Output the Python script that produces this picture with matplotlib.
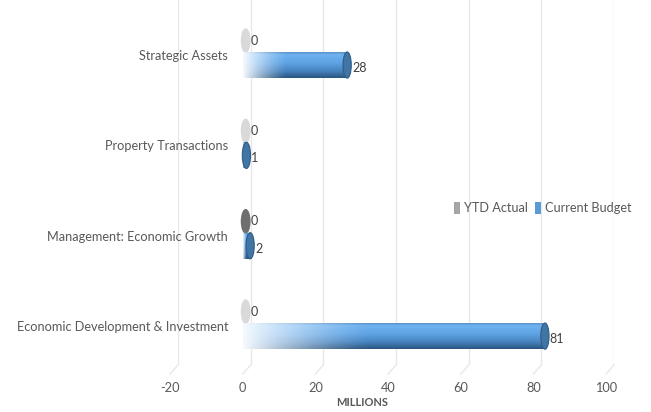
import matplotlib.pyplot as plt
import numpy as np
from matplotlib.patches import Ellipse, Patch
from matplotlib.colors import to_rgb
from matplotlib.transforms import ScaledTranslation, Affine2D

# data (bottom to top, as drawn)
categories = ['Economic Development & Investment', 'Management: Economic Growth',
              'Property Transactions', 'Strategic Assets']
ytd_actual = [0, 0, 0, 0]
current_budget = [81, 2, 1, 28]
xticks = [-20, 0, 20, 40, 60, 80, 100]

plt.rcParams['font.family'] = ['Lato', 'DejaVu Sans']
plt.rcParams['axes.unicode_minus'] = False
TEXT = '#595959'
GRID = '#e8e8e8'

fig = plt.figure(figsize=(6.51, 4.12), dpi=100)
ax = fig.add_axes([178 / 651, 47 / 412, 436 / 651, 365 / 412])
xlim = (-20, 100)
ylim = (-0.42, 3.62)

y = np.arange(len(categories))
bh = 0.29
y_budget = y - 0.1
y_ytd = y + 0.17
cap_w = 2.2

# the bars sit on the front plane of the 3D box: slightly shifted/stretched vs the back wall grid
front = Affine2D().scale(1.027, 1).translate(-2.2, 0) + ax.transData
# the YTD series sits a little deeper in the box
mid = ax.transData + ScaledTranslation(-5 / 100, 0, fig.dpi_scale_trans)


def cylinder_image(nx=300, ny=40):
    # vertical shading of the cylinder, top -> bottom
    stops = [0.0, 0.12, 0.45, 0.75, 1.0]
    cols = np.array([to_rgb(c) for c in ['#4f86b8', '#6eb2f0', '#5ea2e2', '#4682bd', '#2b5680']])
    v = np.linspace(0, 1, ny)
    prof = np.stack([np.interp(v, stops, cols[:, k]) for k in range(3)], axis=1)
    t = np.linspace(0, 1, nx)
    w = np.clip(1 - t / 0.42, 0, 1) ** 1.3
    white = np.array([0.96, 0.98, 1.0])
    img = prof[:, None, :] * (1 - w[None, :, None]) + white * w[None, :, None]
    return img


# YTD actual: zero-length cylinders -> only the end face is visible
ytd_faces = ['#d9d9d9', '#6f6f6f', '#d9d9d9', '#d9d9d9']
for val, yy, fc in zip(ytd_actual, y_ytd, ytd_faces):
    ax.add_patch(Ellipse((val, yy), 2.7, bh * 0.95, facecolor=fc, edgecolor='none',
                         zorder=2, transform=mid))
    ax.annotate(str(val), (val, yy), xycoords=mid, xytext=(3.5, 0), textcoords='offset points',
                ha='left', va='center', fontsize=9, color='#404040', zorder=5)

# Current budget cylinders
bars = ax.barh(y_budget, current_budget, height=bh, color='none', linewidth=0, zorder=3)
for bar, val, yy in zip(bars, current_budget, y_budget):
    bar.set_transform(front)
    im = ax.imshow(cylinder_image(), extent=(0, val, yy - bh / 2, yy + bh / 2),
                   aspect='auto', interpolation='bilinear', origin='upper', zorder=3)
    im.set_transform(front)
    im.set_clip_path(bar)
    ax.add_patch(Ellipse((val, yy), cap_w, bh, facecolor='#4075a6', edgecolor='#2f5c86',
                         linewidth=0.8, zorder=4, transform=front))
    ax.annotate(str(val), (val, yy), xycoords=front, xytext=(3.5, -2), textcoords='offset points',
                ha='left', va='center', fontsize=9, color='#404040', zorder=5)

# category labels sit inside the plot area
for yy, cat in zip(y, categories):
    ax.text(-6.2, yy, cat, ha='right', va='center', fontsize=9.2, color=TEXT)

ax.set_xlim(xlim)
ax.set_ylim(ylim)
ax.set_yticks([])
ax.set_xticks(xticks)
ax.tick_params(axis='x', length=0, pad=12, labelsize=9.2, labelcolor=TEXT)
for lab in ax.get_xticklabels():
    lab.set_transform(lab.get_transform() + ScaledTranslation(-8 / 100, 0, fig.dpi_scale_trans))
ax.grid(axis='x', color=GRID, linewidth=1, zorder=0)
ax.set_axisbelow(True)
for s in ax.spines.values():
    s.set_visible(False)

# floor edge hooks of the 3D gridlines
for xt in xticks:
    ax.plot([xt, xt - 2.2], [ylim[0], ylim[0] - 0.1], color=GRID, linewidth=1,
            clip_on=False, zorder=0)

ax.set_xlabel('MILLIONS', fontsize=8, fontweight='bold', color=TEXT)
ax.xaxis.set_label_coords(0.422, -0.104)
ax.xaxis.label.set_va('center')

handles = [Patch(facecolor='#a6a6a6'), Patch(facecolor='#5b9bd5')]
fig.legend(handles, ['YTD Actual', 'Current Budget'], loc='center left',
           bbox_to_anchor=(454 / 651, 1 - 208 / 412), ncol=2, frameon=False,
           handlelength=0.45, handleheight=1.1, handletextpad=0.3, columnspacing=0.6,
           fontsize=9.2, labelcolor=TEXT, borderaxespad=0, borderpad=0)

fig.savefig('out.png', dpi=100)
